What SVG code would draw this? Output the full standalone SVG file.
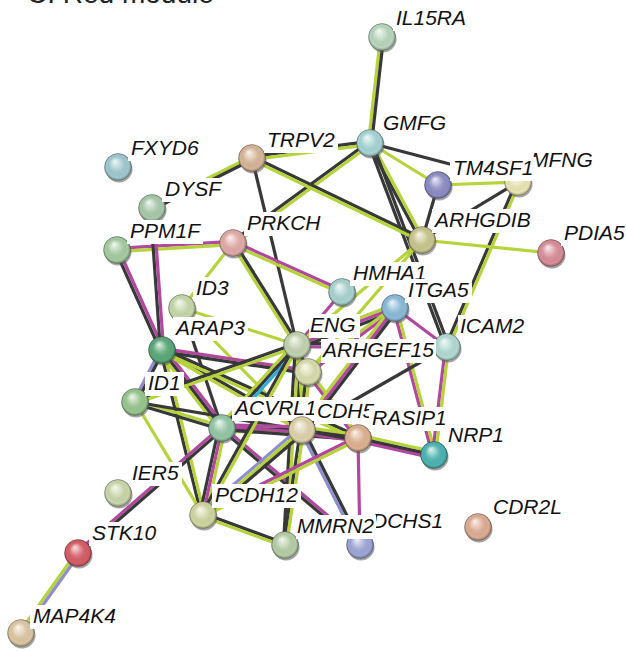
<svg xmlns="http://www.w3.org/2000/svg" width="626" height="651" viewBox="0 0 626 651">
<defs>
<radialGradient id="gl" cx="50%" cy="50%" r="50%" fx="38%" fy="28%">
<stop offset="0" stop-color="#fff" stop-opacity="0.85"/>
<stop offset="0.45" stop-color="#fff" stop-opacity="0.15"/>
<stop offset="0.85" stop-color="#000" stop-opacity="0"/>
<stop offset="1" stop-color="#000" stop-opacity="0.3"/>
</radialGradient>
</defs>
<style>
line{stroke-width:3.2;stroke-linecap:butt}
.k{stroke:#383838}.g{stroke:#b6d33c}.m{stroke:#b1479f}.c{stroke:#2eaee0}.p{stroke:#8e8ecf}
.sh{fill:#5a5a5a;opacity:0.55}
.gl{fill:url(#gl);stroke:#000;stroke-opacity:0.25;stroke-width:0.8}
.lb{fill:#fff}
.t{font-family:"Liberation Sans",Arial,sans-serif;font-style:italic;font-size:21px;fill:#111}
.title{font-family:"Liberation Sans",Arial,sans-serif;font-size:28px;fill:#222}
</style>
<rect width="626" height="651" fill="#fff"/>
<text class="title" x="27" y="3">C. Red module</text>
<g id="edges">
<g id="e-IL15RA-GMFG"><line class="g" x1="380.4" y1="37" x2="368.4" y2="143"/><line class="k" x1="383.6" y1="37" x2="371.6" y2="143"/></g>
<g id="e-TRPV2-GMFG"><line class="k" x1="252" y1="156.4" x2="370" y2="141.4"/><line class="g" x1="252" y1="159.6" x2="370" y2="144.6"/></g>
<g id="e-GMFG-MFNG"><line class="k" x1="370" y1="143" x2="518" y2="182"/></g>
<g id="e-GMFG-TM4SF1"><line class="g" x1="370" y1="143" x2="438" y2="185"/></g>
<g id="e-GMFG-ARHGDIB"><line class="k" x1="368.2" y1="143" x2="420.2" y2="240"/><line class="g" x1="371.8" y1="143" x2="423.8" y2="240"/></g>
<g id="e-GMFG-ICAM2"><line class="k" x1="368.3" y1="143" x2="445.3" y2="347"/><line class="k" x1="372.3" y1="143" x2="449.3" y2="347"/></g>
<g id="e-GMFG-PRKCH"><line class="k" x1="370" y1="141" x2="233" y2="241"/><line class="g" x1="370" y1="145" x2="233" y2="245"/></g>
<g id="e-TM4SF1-MFNG"><line class="g" x1="438" y1="185" x2="518" y2="182"/></g>
<g id="e-TM4SF1-ARHGDIB"><line class="k" x1="438" y1="185" x2="422" y2="240"/></g>
<g id="e-MFNG-ARHGDIB"><line class="k" x1="518" y1="182" x2="422" y2="240"/></g>
<g id="e-MFNG-ICAM2"><line class="k" x1="516.3" y1="182" x2="445.3" y2="347"/><line class="g" x1="519.7" y1="182" x2="448.7" y2="347"/></g>
<g id="e-ARHGDIB-PDIA5"><line class="g" x1="422" y1="240" x2="551" y2="253"/></g>
<g id="e-TRPV2-DYSF"><line class="g" x1="252" y1="156.2" x2="152" y2="206.2"/><line class="k" x1="252" y1="159.8" x2="152" y2="209.8"/></g>
<g id="e-TRPV2-ENG"><line class="k" x1="252" y1="158" x2="297" y2="345"/></g>
<g id="e-TRPV2-ARHGDIB"><line class="k" x1="252" y1="156.2" x2="422" y2="238.2"/><line class="g" x1="252" y1="159.8" x2="422" y2="241.8"/></g>
<g id="e-PPM1F-PRKCH"><line class="m" x1="117" y1="248.4" x2="233" y2="241.4"/><line class="g" x1="117" y1="251.6" x2="233" y2="244.6"/></g>
<g id="e-PPM1F-ARAP3"><line class="k" x1="115.2" y1="250" x2="160.2" y2="350"/><line class="m" x1="118.8" y1="250" x2="163.8" y2="350"/></g>
<g id="e-DYSF-ARAP3"><line class="k" x1="150.4" y1="208" x2="160.4" y2="350"/><line class="m" x1="153.6" y1="208" x2="163.6" y2="350"/></g>
<g id="e-PRKCH-ID3"><line class="g" x1="233" y1="243" x2="182" y2="308"/></g>
<g id="e-PRKCH-HMHA1"><line class="m" x1="233" y1="241.2" x2="342" y2="290.2"/><line class="g" x1="233" y1="244.8" x2="342" y2="293.8"/></g>
<g id="e-PRKCH-ENG"><line class="g" x1="231.1" y1="243" x2="295.1" y2="345"/><line class="k" x1="234.9" y1="243" x2="298.9" y2="345"/></g>
<g id="e-ID3-ENG"><line class="g" x1="182" y1="308" x2="297" y2="345"/></g>
<g id="e-ID3-ACVRL1"><line class="k" x1="182" y1="308" x2="222" y2="428"/></g>
<g id="e-ID3-CDH5"><line class="g" x1="182" y1="308" x2="302" y2="430"/></g>
<g id="e-ARAP3-ARHGEF15"><line class="m" x1="162" y1="348.4" x2="308" y2="370.4"/><line class="k" x1="162" y1="351.6" x2="308" y2="373.6"/></g>
<g id="e-ARAP3-ACVRL1"><line class="g" x1="158" y1="350" x2="218" y2="428"/><line class="k" x1="162" y1="350" x2="222" y2="428"/><line class="m" x1="166" y1="350" x2="226" y2="428"/></g>
<g id="e-ARAP3-CDH5"><line class="k" x1="162" y1="348.2" x2="302" y2="428.2"/><line class="g" x1="162" y1="351.8" x2="302" y2="431.8"/></g>
<g id="e-ARAP3-ID1"><line class="p" x1="160.2" y1="350" x2="133.2" y2="402"/><line class="k" x1="163.8" y1="350" x2="136.8" y2="402"/></g>
<g id="e-ARAP3-PCDH12"><line class="k" x1="160.4" y1="350" x2="201.4" y2="515"/><line class="g" x1="163.6" y1="350" x2="204.6" y2="515"/></g>
<g id="e-ARAP3-RASIP1"><line class="k" x1="162" y1="348.2" x2="358" y2="436.2"/><line class="g" x1="162" y1="351.8" x2="358" y2="439.8"/></g>
<g id="e-ID1-ENG"><line class="k" x1="135" y1="400.3" x2="297" y2="343.3"/><line class="g" x1="135" y1="403.7" x2="297" y2="346.7"/></g>
<g id="e-ID1-ACVRL1"><line class="g" x1="135" y1="400.3" x2="222" y2="426.3"/><line class="k" x1="135" y1="403.7" x2="222" y2="429.7"/></g>
<g id="e-ID1-CDH5"><line class="k" x1="135" y1="402" x2="302" y2="430"/></g>
<g id="e-ID1-PCDH12"><line class="g" x1="135" y1="402" x2="203" y2="515"/></g>
<g id="e-ACVRL1-ENG"><line class="g" x1="217.7" y1="428" x2="292.7" y2="345"/><line class="k" x1="222" y1="428" x2="297" y2="345"/><line class="c" x1="226.3" y1="428" x2="301.3" y2="345"/></g>
<g id="e-ACVRL1-CDH5"><line class="m" x1="222" y1="424.8" x2="302" y2="426.8"/><line class="k" x1="222" y1="428" x2="302" y2="430"/><line class="g" x1="222" y1="431.2" x2="302" y2="433.2"/></g>
<g id="e-ACVRL1-RASIP1"><line class="m" x1="222" y1="426.4" x2="358" y2="436.4"/><line class="k" x1="222" y1="429.6" x2="358" y2="439.6"/></g>
<g id="e-ACVRL1-PCDH12"><line class="k" x1="218.7" y1="428" x2="199.7" y2="515"/><line class="m" x1="222" y1="428" x2="203" y2="515"/><line class="g" x1="225.3" y1="428" x2="206.3" y2="515"/></g>
<g id="e-ACVRL1-DCHS1"><line class="m" x1="222" y1="425.9" x2="360" y2="542.9"/><line class="k" x1="222" y1="430.1" x2="360" y2="547.1"/></g>
<g id="e-ACVRL1-STK10"><line class="m" x1="222" y1="425.9" x2="78" y2="550.9"/><line class="k" x1="222" y1="430.1" x2="78" y2="555.1"/></g>
<g id="e-ENG-ARHGEF15"><line class="k" x1="297" y1="345" x2="308" y2="372"/></g>
<g id="e-ENG-CDH5"><line class="k" x1="295.4" y1="345" x2="300.4" y2="430"/><line class="g" x1="298.6" y1="345" x2="303.6" y2="430"/></g>
<g id="e-ENG-MMRN2"><line class="k" x1="295.4" y1="345" x2="283.4" y2="545"/><line class="g" x1="298.6" y1="345" x2="286.6" y2="545"/></g>
<g id="e-ENG-ITGA5"><line class="g" x1="297" y1="341.6" x2="395" y2="304.6"/><line class="m" x1="297" y1="345" x2="395" y2="308"/><line class="k" x1="297" y1="348.4" x2="395" y2="311.4"/></g>
<g id="e-ENG-ICAM2"><line class="k" x1="297" y1="343.4" x2="447" y2="345.4"/><line class="m" x1="297" y1="346.6" x2="447" y2="348.6"/></g>
<g id="e-ENG-HMHA1"><line class="m" x1="297" y1="345" x2="342" y2="292"/></g>
<g id="e-ENG-ARHGDIB"><line class="g" x1="297" y1="345" x2="422" y2="240"/></g>
<g id="e-ENG-PCDH12"><line class="k" x1="295.2" y1="345" x2="201.2" y2="515"/><line class="g" x1="298.8" y1="345" x2="204.8" y2="515"/></g>
<g id="e-ARHGEF15-ARHGDIB"><line class="g" x1="308" y1="372" x2="422" y2="240"/></g>
<g id="e-ARHGEF15-CDH5"><line class="k" x1="306.4" y1="372" x2="300.4" y2="430"/><line class="g" x1="309.6" y1="372" x2="303.6" y2="430"/></g>
<g id="e-ARHGEF15-RASIP1"><line class="m" x1="306" y1="372" x2="356" y2="438"/><line class="g" x1="310" y1="372" x2="360" y2="438"/></g>
<g id="e-ARHGEF15-ITGA5"><line class="g" x1="308" y1="370" x2="395" y2="306"/><line class="m" x1="308" y1="374" x2="395" y2="310"/></g>
<g id="e-ITGA5-ICAM2"><line class="m" x1="395" y1="308" x2="447" y2="347"/></g>
<g id="e-ITGA5-NRP1"><line class="m" x1="393.4" y1="308" x2="432.4" y2="455"/><line class="g" x1="396.6" y1="308" x2="435.6" y2="455"/></g>
<g id="e-ITGA5-CDH5"><line class="g" x1="391" y1="308" x2="298" y2="430"/><line class="m" x1="395" y1="308" x2="302" y2="430"/><line class="k" x1="399" y1="308" x2="306" y2="430"/></g>
<g id="e-ICAM2-NRP1"><line class="m" x1="445.4" y1="347" x2="432.4" y2="455"/><line class="g" x1="448.6" y1="347" x2="435.6" y2="455"/></g>
<g id="e-ICAM2-CDH5"><line class="k" x1="447" y1="347" x2="302" y2="430"/></g>
<g id="e-CDH5-RASIP1"><line class="g" x1="302" y1="426.8" x2="358" y2="434.8"/><line class="k" x1="302" y1="430" x2="358" y2="438"/><line class="m" x1="302" y1="433.2" x2="358" y2="441.2"/></g>
<g id="e-CDH5-NRP1"><line class="k" x1="302" y1="430" x2="434" y2="455"/></g>
<g id="e-CDH5-MMRN2"><line class="k" x1="300.4" y1="430" x2="283.4" y2="545"/><line class="g" x1="303.6" y1="430" x2="286.6" y2="545"/></g>
<g id="e-CDH5-DCHS1"><line class="p" x1="300.2" y1="430" x2="358.2" y2="545"/><line class="k" x1="303.8" y1="430" x2="361.8" y2="545"/></g>
<g id="e-CDH5-PCDH12"><line class="p" x1="302" y1="425.8" x2="203" y2="510.8"/><line class="g" x1="302" y1="430" x2="203" y2="515"/><line class="k" x1="302" y1="434.2" x2="203" y2="519.2"/></g>
<g id="e-RASIP1-NRP1"><line class="g" x1="358" y1="434.7" x2="434" y2="451.7"/><line class="k" x1="358" y1="438" x2="434" y2="455"/><line class="m" x1="358" y1="441.3" x2="434" y2="458.3"/></g>
<g id="e-RASIP1-DCHS1"><line class="m" x1="358" y1="438" x2="360" y2="545"/></g>
<g id="e-RASIP1-PCDH12"><line class="m" x1="358" y1="436.2" x2="203" y2="513.2"/><line class="g" x1="358" y1="439.8" x2="203" y2="516.8"/></g>
<g id="e-PCDH12-MMRN2"><line class="k" x1="203" y1="513.3" x2="285" y2="543.3"/><line class="g" x1="203" y1="516.7" x2="285" y2="546.7"/></g>
<g id="e-STK10-MAP4K4"><line class="g" x1="76" y1="553" x2="19" y2="633"/><line class="p" x1="80" y1="553" x2="23" y2="633"/></g>
</g>
<g id="nodes">
<g id="n-IL15RA"><circle class="sh" cx="383" cy="39" r="13.5"/><circle cx="382" cy="37" r="13.5" fill="#b9d6bc"/><circle class="gl" cx="382" cy="37" r="13.5"/><rect class="lb" x="393" y="7" width="76" height="24"/><text class="t" x="396" y="25">IL15RA</text></g>
<g id="n-GMFG"><circle class="sh" cx="371" cy="145" r="13.5"/><circle cx="370" cy="143" r="13.5" fill="#a6d4d4"/><circle class="gl" cx="370" cy="143" r="13.5"/><rect class="lb" x="381" y="112" width="69" height="24"/><text class="t" x="383" y="130">GMFG</text></g>
<g id="n-MFNG"><circle class="sh" cx="519" cy="184" r="13.5"/><circle cx="518" cy="182" r="13.5" fill="#e9e5b5"/><circle class="gl" cx="518" cy="182" r="13.5"/><rect class="lb" x="529" y="149" width="68" height="24"/><text class="t" x="531" y="167">MFNG</text></g>
<g id="n-TM4SF1"><circle class="sh" cx="439" cy="187" r="13.5"/><circle cx="438" cy="185" r="13.5" fill="#8c8cc4"/><circle class="gl" cx="438" cy="185" r="13.5"/><rect class="lb" x="450" y="157" width="86" height="24"/><text class="t" x="453" y="175">TM4SF1</text></g>
<g id="n-TRPV2"><circle class="sh" cx="253" cy="160" r="13.5"/><circle cx="252" cy="158" r="13.5" fill="#d6b698"/><circle class="gl" cx="252" cy="158" r="13.5"/><rect class="lb" x="264" y="129" width="74" height="24"/><text class="t" x="267" y="147">TRPV2</text></g>
<g id="n-FXYD6"><circle class="sh" cx="119" cy="169" r="13.5"/><circle cx="118" cy="167" r="13.5" fill="#9fc9cf"/><circle class="gl" cx="118" cy="167" r="13.5"/><rect class="lb" x="128" y="137" width="74" height="24"/><text class="t" x="131" y="155">FXYD6</text></g>
<g id="n-DYSF"><circle class="sh" cx="153" cy="210" r="13.5"/><circle cx="152" cy="208" r="13.5" fill="#a9c9ab"/><circle class="gl" cx="152" cy="208" r="13.5"/><rect class="lb" x="162" y="178" width="62" height="24"/><text class="t" x="165" y="196">DYSF</text></g>
<g id="n-PPM1F"><circle class="sh" cx="118" cy="252" r="13.5"/><circle cx="117" cy="250" r="13.5" fill="#a5cba1"/><circle class="gl" cx="117" cy="250" r="13.5"/><rect class="lb" x="127" y="220" width="76" height="24"/><text class="t" x="130" y="238">PPM1F</text></g>
<g id="n-PRKCH"><circle class="sh" cx="234" cy="245" r="13.5"/><circle cx="233" cy="243" r="13.5" fill="#e0aaa6"/><circle class="gl" cx="233" cy="243" r="13.5"/><rect class="lb" x="244" y="212" width="80" height="24"/><text class="t" x="247" y="230">PRKCH</text></g>
<g id="n-ID3"><circle class="sh" cx="183" cy="310" r="13.5"/><circle cx="182" cy="308" r="13.5" fill="#c5d7aa"/><circle class="gl" cx="182" cy="308" r="13.5"/><rect class="lb" x="193" y="277" width="39" height="24"/><text class="t" x="196" y="295">ID3</text></g>
<g id="n-HMHA1"><circle class="sh" cx="343" cy="294" r="13.5"/><circle cx="342" cy="292" r="13.5" fill="#a9d2cf"/><circle class="gl" cx="342" cy="292" r="13.5"/><rect class="lb" x="350" y="262" width="80" height="24"/><text class="t" x="353" y="280">HMHA1</text></g>
<g id="n-ITGA5"><circle class="sh" cx="396" cy="310" r="13.5"/><circle cx="395" cy="308" r="13.5" fill="#8bbad6"/><circle class="gl" cx="395" cy="308" r="13.5"/><rect class="lb" x="405" y="279" width="67" height="24"/><text class="t" x="408" y="297">ITGA5</text></g>
<g id="n-ARHGDIB"><circle class="sh" cx="423" cy="242" r="13.5"/><circle cx="422" cy="240" r="13.5" fill="#c9c58f"/><circle class="gl" cx="422" cy="240" r="13.5"/><rect class="lb" x="432" y="209" width="102" height="24"/><text class="t" x="435" y="227">ARHGDIB</text></g>
<g id="n-PDIA5"><circle class="sh" cx="552" cy="255" r="13.5"/><circle cx="551" cy="253" r="13.5" fill="#d98d98"/><circle class="gl" cx="551" cy="253" r="13.5"/><rect class="lb" x="561" y="222" width="65" height="24"/><text class="t" x="564" y="240">PDIA5</text></g>
<g id="n-ICAM2"><circle class="sh" cx="448" cy="349" r="13.5"/><circle cx="447" cy="347" r="13.5" fill="#b3d9d2"/><circle class="gl" cx="447" cy="347" r="13.5"/><rect class="lb" x="458" y="315" width="70" height="24"/><text class="t" x="460" y="333">ICAM2</text></g>
<g id="n-ENG"><circle class="sh" cx="298" cy="347" r="13.5"/><circle cx="297" cy="345" r="13.5" fill="#c3d2b0"/><circle class="gl" cx="297" cy="345" r="13.5"/><rect class="lb" x="309" y="314" width="51" height="24"/><text class="t" x="310" y="332">ENG</text></g>
<g id="n-ARHGEF15"><circle class="sh" cx="309" cy="374" r="13.5"/><circle cx="308" cy="372" r="13.5" fill="#d8dcae"/><circle class="gl" cx="308" cy="372" r="13.5"/><rect class="lb" x="321" y="339" width="115" height="24"/><text class="t" x="323" y="357">ARHGEF15</text></g>
<g id="n-ARAP3"><circle class="sh" cx="163" cy="352" r="13.5"/><circle cx="162" cy="350" r="13.5" fill="#5aa878"/><circle class="gl" cx="162" cy="350" r="13.5"/><rect class="lb" x="173" y="317" width="75" height="24"/><text class="t" x="176" y="335">ARAP3</text></g>
<g id="n-ID1"><circle class="sh" cx="136" cy="404" r="13.5"/><circle cx="135" cy="402" r="13.5" fill="#98c58e"/><circle class="gl" cx="135" cy="402" r="13.5"/><rect class="lb" x="145" y="372" width="39" height="24"/><text class="t" x="148" y="390">ID1</text></g>
<g id="n-ACVRL1"><circle class="sh" cx="223" cy="430" r="13.5"/><circle cx="222" cy="428" r="13.5" fill="#94c6a6"/><circle class="gl" cx="222" cy="428" r="13.5"/><rect class="lb" x="232" y="397" width="88" height="24"/><text class="t" x="235" y="415">ACVRL1</text></g>
<g id="n-CDH5"><circle class="sh" cx="303" cy="432" r="13.5"/><circle cx="302" cy="430" r="13.5" fill="#ddd1aa"/><circle class="gl" cx="302" cy="430" r="13.5"/><rect class="lb" x="314" y="400" width="63" height="24"/><text class="t" x="317" y="418">CDH5</text></g>
<g id="n-RASIP1"><circle class="sh" cx="359" cy="440" r="13.5"/><circle cx="358" cy="438" r="13.5" fill="#ddb190"/><circle class="gl" cx="358" cy="438" r="13.5"/><rect class="lb" x="369" y="407" width="81" height="24"/><text class="t" x="372" y="425">RASIP1</text></g>
<g id="n-NRP1"><circle class="sh" cx="435" cy="457" r="13.5"/><circle cx="434" cy="455" r="13.5" fill="#4cb3b0"/><circle class="gl" cx="434" cy="455" r="13.5"/><rect class="lb" x="445" y="424" width="62" height="24"/><text class="t" x="448" y="442">NRP1</text></g>
<g id="n-CDR2L"><circle class="sh" cx="479" cy="529" r="13.5"/><circle cx="478" cy="527" r="13.5" fill="#ddac93"/><circle class="gl" cx="478" cy="527" r="13.5"/><rect class="lb" x="490" y="496" width="75" height="24"/><text class="t" x="493" y="514">CDR2L</text></g>
<g id="n-DCHS1"><circle class="sh" cx="361" cy="547" r="13.5"/><circle cx="360" cy="545" r="13.5" fill="#9ea6d6"/><circle class="gl" cx="360" cy="545" r="13.5"/><rect class="lb" x="369" y="510" width="77" height="24"/><text class="t" x="372" y="528">DCHS1</text></g>
<g id="n-MMRN2"><circle class="sh" cx="286" cy="547" r="13.5"/><circle cx="285" cy="545" r="13.5" fill="#b6cda6"/><circle class="gl" cx="285" cy="545" r="13.5"/><rect class="lb" x="296" y="515" width="80" height="24"/><text class="t" x="297" y="533">MMRN2</text></g>
<g id="n-PCDH12"><circle class="sh" cx="204" cy="517" r="13.5"/><circle cx="203" cy="515" r="13.5" fill="#cfd6a1"/><circle class="gl" cx="203" cy="515" r="13.5"/><rect class="lb" x="212" y="484" width="89" height="24"/><text class="t" x="215" y="502">PCDH12</text></g>
<g id="n-IER5"><circle class="sh" cx="119" cy="495" r="13.5"/><circle cx="118" cy="493" r="13.5" fill="#cad6aa"/><circle class="gl" cx="118" cy="493" r="13.5"/><rect class="lb" x="129" y="462" width="53" height="24"/><text class="t" x="132" y="480">IER5</text></g>
<g id="n-STK10"><circle class="sh" cx="79" cy="555" r="13.5"/><circle cx="78" cy="553" r="13.5" fill="#d55c66"/><circle class="gl" cx="78" cy="553" r="13.5"/><rect class="lb" x="89" y="522" width="70" height="24"/><text class="t" x="92" y="540">STK10</text></g>
<g id="n-MAP4K4"><circle class="sh" cx="22" cy="635" r="13.5"/><circle cx="21" cy="633" r="13.5" fill="#dcc6a3"/><circle class="gl" cx="21" cy="633" r="13.5"/><rect class="lb" x="30" y="605" width="89" height="24"/><text class="t" x="33" y="623">MAP4K4</text></g>
</g>
</svg>
